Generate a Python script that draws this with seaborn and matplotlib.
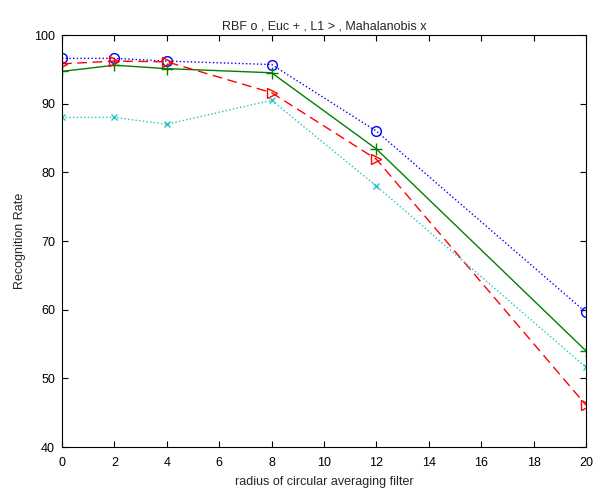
import matplotlib
matplotlib.use("Agg")
import matplotlib.pyplot as plt
import seaborn as sns
import pandas as pd

radius = [0, 2, 4, 8, 12, 20]
rbf = [96.6, 96.6, 96.2, 95.7, 86.0, 59.6]
euc = [94.7, 95.6, 95.1, 94.5, 83.4, 54.0]
l1 = [95.8, 96.2, 96.1, 91.6, 81.9, 46.1]
mahalanobis = [88.0, 88.0, 87.0, 90.5, 78.0, 51.6]

sns.set_theme(style="white")
plt.rcParams["font.family"] = ["Liberation Sans", "DejaVu Sans"]

fig = plt.figure(figsize=(6.0, 4.91), dpi=100)
ax = fig.add_axes([62 / 600, 1 - 447 / 491, 524 / 600, 412 / 491])

series = [
    (rbf, "blue", ":", "o", dict(mfc="none", ms=7)),
    (euc, "green", "-", "+", dict(ms=9)),
    (l1, "red", (0, (7, 4)), ">", dict(mfc="none", ms=7)),
    (mahalanobis, "#22c4c4", ":", "x", dict(ms=5)),
]
for vals, color, ls, mk, extra in series:
    df = pd.DataFrame({"radius": radius, "rate": vals})
    sns.lineplot(data=df, x="radius", y="rate", ax=ax, color=color,
                 linestyle=ls, linewidth=1.0, marker=mk, mec=color,
                 mew=1.0, **extra)

ax.set_xlim(0, 20)
ax.set_ylim(40, 100)
ax.set_xticks(range(0, 21, 2))
ax.set_yticks(range(40, 101, 10))
ax.tick_params(direction="in", length=4, width=0.8, labelsize=9,
               colors="black", top=True, right=True, bottom=True, left=True)
ax.tick_params(axis="x", pad=7)
ax.tick_params(axis="y", pad=5)
for s in ax.spines.values():
    s.set_color("black")
    s.set_linewidth(0.8)
ax.set_xlabel("radius of circular averaging filter", fontsize=9, labelpad=5)
ax.set_ylabel("Recognition Rate", fontsize=9, labelpad=6)
ax.set_title("RBF o , Euc + , L1 > , Mahalanobis x", fontsize=9, pad=4)

fig.savefig("out.png", dpi=100)
